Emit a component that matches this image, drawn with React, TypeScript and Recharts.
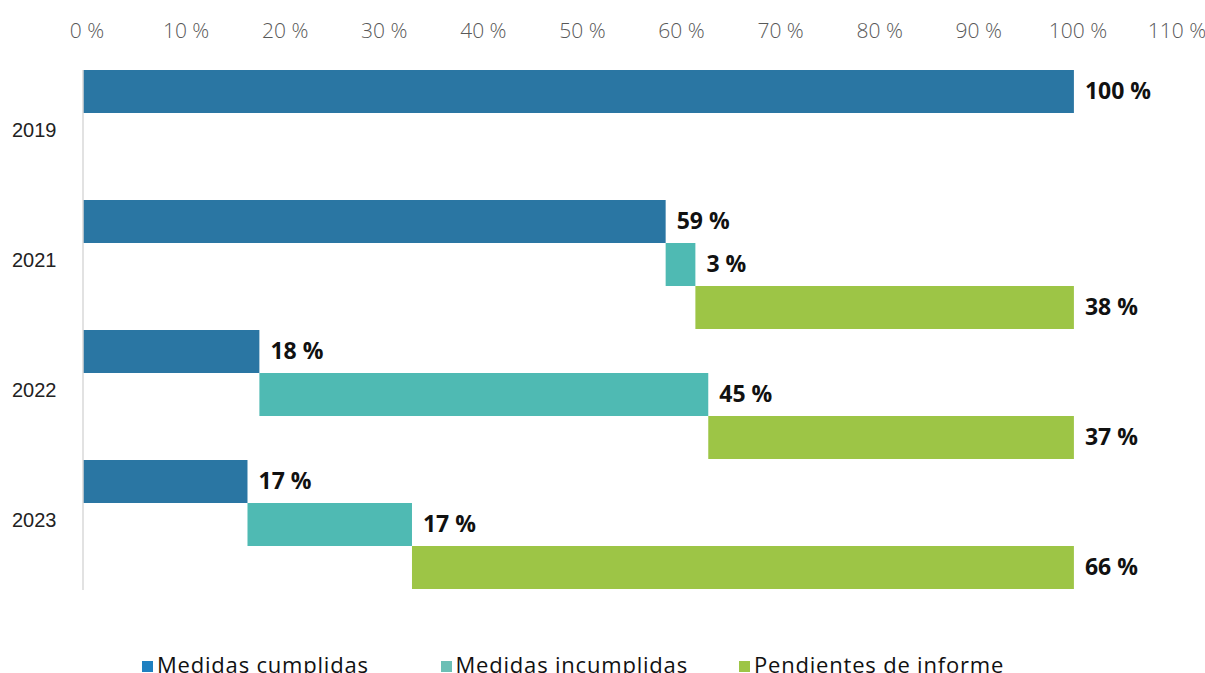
import { Bar, BarChart, LabelList, XAxis, YAxis } from "recharts";

const anios = ["2019", "2021", "2022", "2023"];
const cumplidas = [100, 58.8, 17.8, 16.6];
const incumplidas = [0, 3.0, 45.3, 16.6];
const pendientes = [0, 38.2, 36.9, 66.8];

// porcentajes tal como aparecen rotulados
const rotulosCumplidas = [100, 59, 18, 17];
const rotulosIncumplidas = [null, 3, 45, 17];
const rotulosPendientes = [null, 38, 37, 66];

const ticksX = [0, 10, 20, 30, 40, 50, 60, 70, 80, 90, 100, 110];

const COLORS = {
  cumplidas: "#2a76a3",
  incumplidas: "#4fbab3",
  pendientes: "#9dc546",
};
const LEGEND_COLORS = {
  cumplidas: "#1f80c0",
  incumplidas: "#6bbfb5",
  pendientes: "#9dc546",
};

const FONT = "'Open Sans', sans-serif";

const data = anios.map((anio, i) => {
  const c = cumplidas[i];
  const inc = incumplidas[i];
  const p = pendientes[i];
  return {
    anio,
    cumplidas: [0, c],
    incumplidas: [c, c + inc],
    pendientes: [c + inc, c + inc + p],
    rotuloCumplidas: rotulosCumplidas[i],
    rotuloIncumplidas: rotulosIncumplidas[i],
    rotuloPendientes: rotulosPendientes[i],
  };
});

function BarLabel(props: any) {
  const { x, y, width, height, value } = props;
  if (value == null) return null;
  return (
    <text
      x={x + width + 11}
      y={y + height / 2 - 2}
      dominantBaseline="central"
      fontSize={23}
      fontWeight={700}
      fill="#111"
      style={{ fontFamily: FONT }}
    >
      {value} %
    </text>
  );
}

function YearTick({ y, payload }: any) {
  return (
    <text
      x={12}
      y={y - 5}
      dominantBaseline="central"
      fontSize={20}
      fill="#222"
      style={{ fontFamily: "'Liberation Sans', Arial, sans-serif" }}
    >
      {payload.value}
    </text>
  );
}

const legendItems = [
  { key: "cumplidas", name: "Medidas cumplidas" },
  { key: "incumplidas", name: "Medidas incumplidas" },
  { key: "pendientes", name: "Pendientes de informe" },
] as const;

export default function App() {
  return (
    <div style={{ position: "absolute", left: 0, top: 0, width: 1205, height: 673, overflow: "hidden", background: "#fff" }}>
      <BarChart
        width={1205}
        height={673}
        data={data}
        layout="vertical"
        barCategoryGap="0%"
        barGap={0}
        margin={{ top: 30, right: 32, left: 0, bottom: 83 }}
      >
        <XAxis
          type="number"
          orientation="top"
          domain={[0, 110]}
          ticks={ticksX}
          height={40}
          axisLine={false}
          tickLine={false}
          tickSize={0}
          tickMargin={32}
          tickFormatter={(v) => `${v} %`}
          tick={{ fill: "#595959", fontSize: 21, fontWeight: 300, dx: 4, style: { fontFamily: FONT } }}
        />
        <YAxis
          type="category"
          dataKey="anio"
          width={83}
          axisLine={{ stroke: "#d9d9d9", strokeWidth: 1.5 }}
          tickLine={false}
          tick={<YearTick />}
        />
        <Bar dataKey="cumplidas" fill={COLORS.cumplidas} isAnimationActive={false}>
          <LabelList dataKey="rotuloCumplidas" content={<BarLabel />} />
        </Bar>
        <Bar dataKey="incumplidas" fill={COLORS.incumplidas} isAnimationActive={false}>
          <LabelList dataKey="rotuloIncumplidas" content={<BarLabel />} />
        </Bar>
        <Bar dataKey="pendientes" fill={COLORS.pendientes} isAnimationActive={false}>
          <LabelList dataKey="rotuloPendientes" content={<BarLabel />} />
        </Bar>
      </BarChart>
      <div style={{ position: "absolute", left: 142, top: 649, display: "flex", fontFamily: FONT, fontSize: 22, letterSpacing: 0.8, color: "#111", lineHeight: "30px" }}>
        {legendItems.map((it) => (
          <div key={it.key} style={{ width: 298.5, display: "flex", alignItems: "center" }}>
            <span style={{ display: "inline-block", width: 11, height: 11, background: LEGEND_COLORS[it.key], marginRight: 4, marginTop: 4 }} />
            <span>{it.name}</span>
          </div>
        ))}
      </div>
    </div>
  );
}
